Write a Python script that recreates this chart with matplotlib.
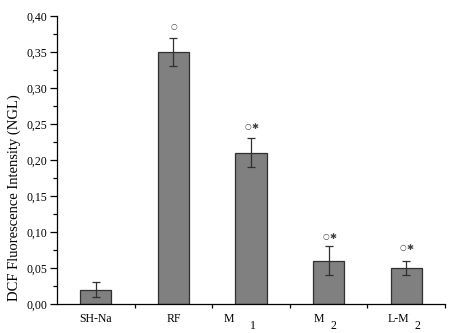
import matplotlib
matplotlib.use("Agg")
import matplotlib.pyplot as plt
from matplotlib.ticker import MultipleLocator, FuncFormatter

categories = ["SH-Na", "RF", "M", "M", "L-M"]
subscripts = ["", "", "1", "2", "2"]
values = [0.02, 0.35, 0.21, 0.06, 0.05]
errors = [0.01, 0.02, 0.02, 0.02, 0.01]
circle_marks = [False, True, True, True, True]
star_marks = [False, False, True, True, True]
mark_y = [0.0, 0.385, 0.246, 0.094, 0.078]

plt.rcParams['font.family'] = ['Liberation Serif', 'DejaVu Serif']

fig = plt.figure(figsize=(4.5, 3.33), dpi=100)
ax = fig.add_axes([57/450, 1-304/333, (445-57)/450, (304-16)/333])

x = list(range(len(categories)))
ax.bar(x, values, width=0.4, color="#808080", edgecolor="#303030", linewidth=0.9)
ax.errorbar(x, values, yerr=errors, fmt="none", ecolor="#303030",
            elinewidth=0.9, capsize=3, capthick=0.9)

for xi, c, s, my in zip(x, circle_marks, star_marks, mark_y):
    if c and s:
        ax.text(xi - 0.04, my, "\u25cb", ha="center", va="center", fontsize=5.5,
                family=['DejaVu Sans'], color="#404040")
        ax.text(xi + 0.05, my, "\u2731", ha="center", va="center", fontsize=6,
                family=['DejaVu Sans'], color="#404040")
    elif c:
        ax.text(xi, my, "\u25cb", ha="center", va="center", fontsize=5.5,
                family=['DejaVu Sans'], color="#404040")

ax.set_xlim(-0.5, 4.5)
ax.set_ylim(0, 0.40)
ax.spines['top'].set_visible(False)
ax.spines['right'].set_visible(False)

ax.yaxis.set_major_locator(MultipleLocator(0.05))
ax.yaxis.set_minor_locator(MultipleLocator(0.025))
ax.yaxis.set_major_formatter(FuncFormatter(lambda v, p: f"{v:.2f}".replace(".", ",")))
ax.tick_params(axis='y', which='major', length=5, width=0.9, labelsize=8.5, pad=2)
ax.tick_params(axis='y', which='minor', length=3, width=0.9)

ax.set_xticks([0.5, 1.5, 2.5, 3.5, 4.5])
ax.set_xticklabels([])
ax.tick_params(axis='x', which='major', length=3, width=0.9, direction='out')

# category labels with offset subscripts
label_off = [0.0, 0.0, -0.28, -0.12, -0.10]
sub_off = [0.0, 0.0, 0.03, 0.06, 0.14]
for xi, lab, sub, lo, so in zip(x, categories, subscripts, label_off, sub_off):
    ax.text(xi + lo, -0.052, lab, ha="center", va="center", fontsize=8.5,
            transform=ax.get_xaxis_transform())
    if sub:
        ax.text(xi + so, -0.078, sub, ha="center", va="center", fontsize=8.5,
                transform=ax.get_xaxis_transform())

for s in ['left', 'bottom']:
    ax.spines[s].set_linewidth(0.9)

fig.text(14/450, 1-198/333, "DCF Fluorescence Intensity (NGL)", rotation=90,
         ha="center", va="center", fontsize=10.5)

fig.savefig("out.png", dpi=100)
